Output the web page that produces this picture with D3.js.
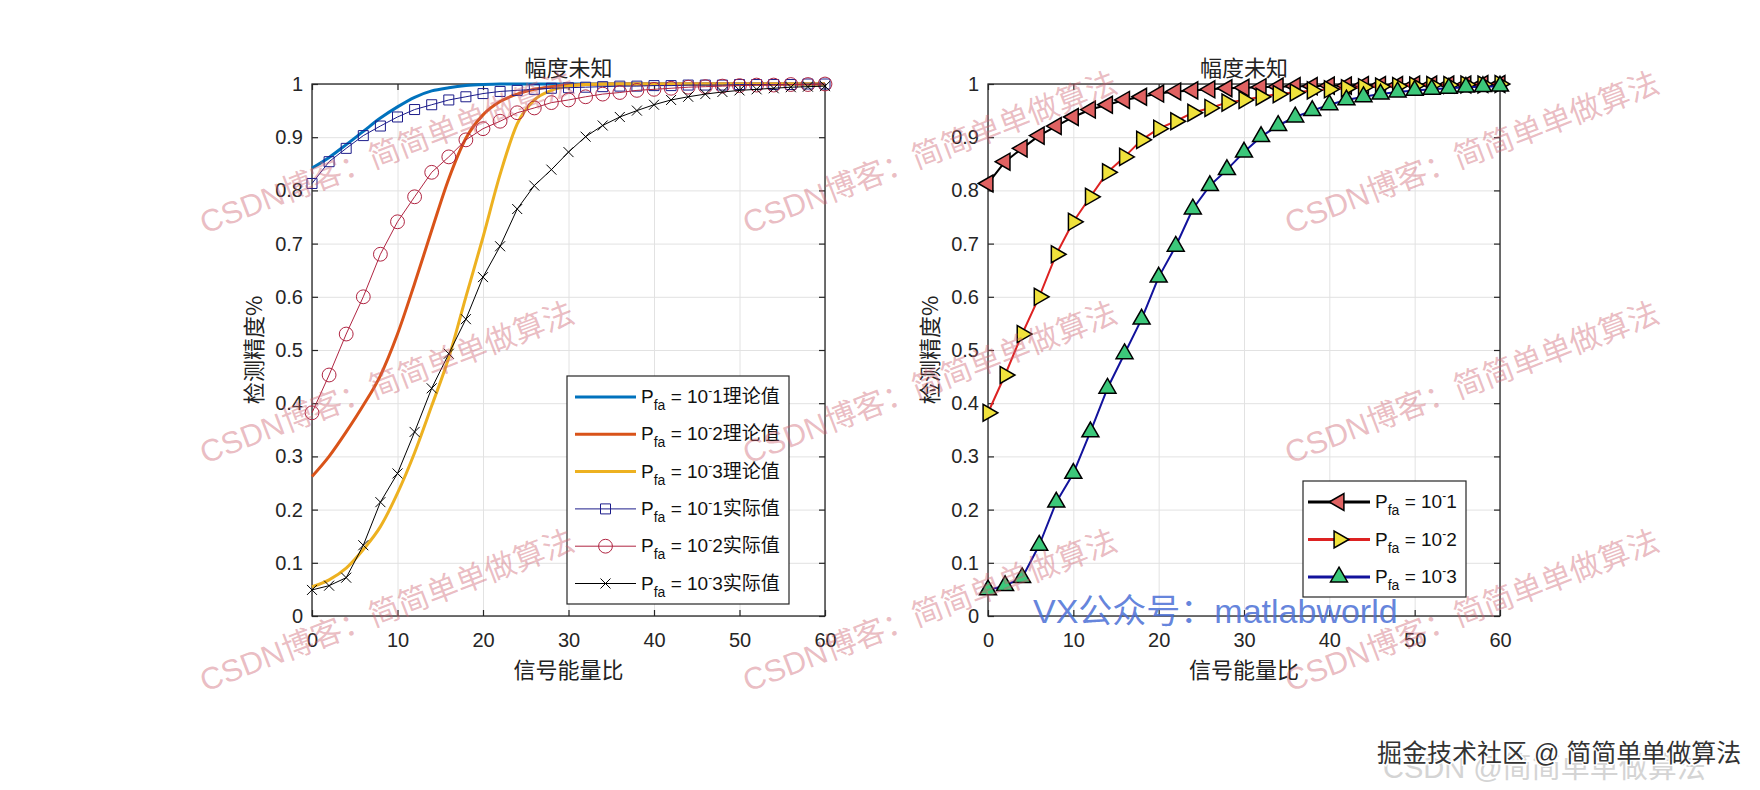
<!DOCTYPE html>
<html>
<head>
<meta charset="utf-8">
<script src="https://cdn.jsdelivr.net/npm/d3@7"></script>
<style>
  body { margin: 0; background: #fff; }
</style>
</head>
<body>
<div class="main"></div>
<script>
// Taille de la figure
const width = 1760;
const height = 790;

// Données (x = rapport signal/bruit)
const snr = [0, 2, 4, 6, 8, 10, 12, 14, 16, 18, 20, 22, 24, 26, 28, 30,
             32, 34, 36, 38, 40, 42, 44, 46, 48, 50, 52, 54, 56, 58, 60];

const theory1 = [0.842, 0.862, 0.886, 0.911, 0.936, 0.957, 0.975, 0.987, 0.993, 0.997, 0.999,
                 1, 1, 1, 1, 1, 1, 1, 1, 1, 1, 1, 1, 1, 1, 1, 1, 1, 1, 1, 1];
const theory2 = [0.262, 0.300, 0.346, 0.396, 0.452, 0.530, 0.625, 0.725, 0.822, 0.898, 0.942,
                 0.967, 0.981, 0.990, 0.995, 0.998, 0.999, 1, 1, 1, 1, 1, 1, 1, 1, 1, 1, 1, 1, 1, 1];
const theory3 = [0.055, 0.068, 0.090, 0.125, 0.168, 0.231, 0.307, 0.395, 0.486, 0.600, 0.712,
                 0.830, 0.925, 0.970, 0.988, 0.996, 0.999, 1, 1, 1, 1, 1, 1, 1, 1, 1, 1, 1, 1, 1, 1];

const actual1 = [0.813, 0.854, 0.879, 0.903, 0.921, 0.938, 0.952, 0.961, 0.970, 0.976, 0.982,
                 0.986, 0.988, 0.990, 0.992, 0.993, 0.994, 0.995, 0.996, 0.996, 0.997, 0.997,
                 0.998, 0.998, 0.998, 0.999, 0.999, 0.999, 0.999, 1.0, 1.0];
const actual2 = [0.382, 0.453, 0.530, 0.600, 0.680, 0.741, 0.788, 0.834, 0.863, 0.895, 0.916,
                 0.930, 0.946, 0.955, 0.965, 0.970, 0.976, 0.981, 0.984, 0.988, 0.990, 0.992,
                 0.994, 0.995, 0.996, 0.997, 0.998, 0.998, 0.999, 0.999, 1.0];
const actual3 = [0.049, 0.057, 0.072, 0.133, 0.214, 0.268, 0.346, 0.428, 0.493, 0.558, 0.637,
                 0.695, 0.765, 0.809, 0.839, 0.872, 0.901, 0.922, 0.938, 0.950, 0.961, 0.970,
                 0.976, 0.981, 0.985, 0.988, 0.990, 0.992, 0.994, 0.995, 0.996];

const xTicks = [0, 10, 20, 30, 40, 50, 60];
const yTicks = [0, 0.1, 0.2, 0.3, 0.4, 0.5, 0.6, 0.7, 0.8, 0.9, 1];
const pfaExp = ['1', '2', '3'];
const leftSuffix = ['理论值', '理论值', '理论值', '实际值', '实际值', '实际值'];
const title = '幅度未知';
const xLabel = '信号能量比';
const yLabel = '检测精度%';

const latin = '"Liberation Sans", Arial, sans-serif';
const cjk = '"Noto Sans CJK SC", sans-serif';
const axisColor = '#262626';

const svg = d3.select('.main')
  .append('svg')
  .attr('width', width)
  .attr('height', height)
  .style('display', 'block');

// Un axe façon MATLAB : grille, cadre, graduations intérieures
function panel(p) {
  const x = d3.scaleLinear().domain([0, 60]).range([p.left, p.right]);
  const y = d3.scaleLinear().domain([0, 1]).range([p.bottom, p.top]);
  const h = p.bottom - p.top;
  const w = p.right - p.left;
  const g = svg.append('g');

  // grille
  g.append('g')
    .attr('transform', `translate(0,${p.bottom})`)
    .call(d3.axisBottom(x).tickValues(xTicks).tickSize(-h).tickFormat(''))
    .call(a => a.select('.domain').remove())
    .selectAll('line').attr('stroke', '#e2e2e2');
  g.append('g')
    .attr('transform', `translate(${p.left},0)`)
    .call(d3.axisLeft(y).tickValues(yTicks).tickSize(-w).tickFormat(''))
    .call(a => a.select('.domain').remove())
    .selectAll('line').attr('stroke', '#e2e2e2');

  // cadre
  g.append('rect')
    .attr('x', p.left).attr('y', p.top)
    .attr('width', w).attr('height', h)
    .attr('fill', 'none')
    .attr('stroke', axisColor)
    .attr('stroke-width', 1.3);

  const styleAxis = a => {
    a.select('.domain').remove();
    a.selectAll('line').attr('stroke', axisColor).attr('stroke-width', 1.2);
    a.selectAll('text')
      .attr('fill', axisColor)
      .style('font-family', latin)
      .style('font-size', '20px');
  };

  g.append('g')
    .attr('transform', `translate(0,${p.bottom})`)
    .call(d3.axisBottom(x).tickValues(xTicks).tickSize(-6).tickPadding(17).tickFormat(d3.format('~g')))
    .call(styleAxis);
  g.append('g')
    .attr('transform', `translate(0,${p.top})`)
    .call(d3.axisTop(x).tickValues(xTicks).tickSize(-6).tickFormat(''))
    .call(styleAxis);
  g.append('g')
    .attr('transform', `translate(${p.left},0)`)
    .call(d3.axisLeft(y).tickValues(yTicks).tickSize(-6).tickPadding(9).tickFormat(d3.format('~g')))
    .call(styleAxis);
  g.append('g')
    .attr('transform', `translate(${p.right},0)`)
    .call(d3.axisRight(y).tickValues(yTicks).tickSize(-6).tickFormat(''))
    .call(styleAxis);

  // titres
  g.append('text')
    .attr('x', (p.left + p.right) / 2).attr('y', p.top - 8)
    .attr('text-anchor', 'middle')
    .style('font-family', cjk).style('font-size', '22px')
    .attr('fill', '#222')
    .text(title);
  g.append('text')
    .attr('x', (p.left + p.right) / 2).attr('y', p.bottom + 62)
    .attr('text-anchor', 'middle')
    .style('font-family', cjk).style('font-size', '22px')
    .attr('fill', '#222')
    .text(xLabel);
  g.append('text')
    .attr('transform', `translate(${p.left - 50},${(p.top + p.bottom) / 2}) rotate(-90)`)
    .attr('text-anchor', 'middle')
    .style('font-family', cjk).style('font-size', '22px')
    .attr('fill', '#222')
    .text(yLabel);

  return { g, x, y };
}

// Marqueurs
const markerPath = {
  square: d3.symbol().type(d3.symbolSquare).size(100)(),
  circle: d3.symbol().type(d3.symbolCircle).size(150)(),
  cross: 'M-5,-5L5,5M-5,5L5,-5',
  triangle: d3.symbol().type(d3.symbolTriangle).size(125)()
};

function drawSeries(g, x, y, values, s) {
  const pts = snr.map((v, i) => [v, values[i]]);
  const line = d3.line()
    .x(d => x(d[0])).y(d => y(d[1]))
    .curve(s.smooth ? d3.curveMonotoneX : d3.curveLinear);
  g.append('path')
    .datum(pts)
    .attr('d', line)
    .attr('fill', 'none')
    .attr('stroke', s.color)
    .attr('stroke-width', s.width)
    .attr('stroke-linejoin', 'round');
  if (s.marker) {
    g.append('g')
      .selectAll('path')
      .data(pts)
      .enter()
      .append('path')
      .attr('transform', d => `translate(${x(d[0])},${y(d[1])}) rotate(${s.rotate || 0})`)
      .attr('d', markerPath[s.marker])
      .attr('fill', s.fill || 'none')
      .attr('stroke', s.edge || s.color)
      .attr('stroke-width', s.edgeWidth || 1);
  }
}

// Texte de légende : P_fa = 10^-n suffixe
function legendText(g, tx, ty, exp, suffix) {
  const t = g.append('text')
    .attr('x', tx).attr('y', ty)
    .style('font-family', latin).style('font-size', '19px')
    .attr('fill', '#111');
  t.append('tspan').text('P');
  t.append('tspan').attr('dy', 7).style('font-size', '14px').text('fa');
  t.append('tspan').attr('dy', -7).text('\u00a0=\u00a010');
  t.append('tspan').attr('dy', -8).style('font-size', '12px').text('-');
  t.append('tspan').attr('dy', 8).text(exp);
  if (suffix) t.append('tspan').style('font-family', cjk).text(suffix);
}

function legend(g, box, rows) {
  g.append('rect')
    .attr('x', box.x).attr('y', box.y)
    .attr('width', box.w).attr('height', box.h)
    .attr('fill', '#fff')
    .attr('stroke', axisColor)
    .attr('stroke-width', 1.2);
  rows.forEach((s, i) => {
    const cy = box.row0 + i * box.step;
    g.append('line')
      .attr('x1', box.l0).attr('x2', box.l1)
      .attr('y1', cy).attr('y2', cy)
      .attr('stroke', s.color)
      .attr('stroke-width', s.width);
    if (s.marker) {
      g.append('path')
        .attr('transform', `translate(${(box.l0 + box.l1) / 2},${cy}) rotate(${s.rotate || 0})`)
        .attr('d', markerPath[s.marker])
        .attr('fill', s.fill || 'none')
        .attr('stroke', s.edge || s.color)
        .attr('stroke-width', s.edgeWidth || 1);
    }
    legendText(g, box.text, cy + 6, s.exp, s.suffix);
  });
}

// ---- Graphique de gauche ----
const left = panel({ left: 312, right: 825, top: 84, bottom: 616 });
const leftSeries = [
  { values: theory1, color: '#0072BD', width: 3, smooth: true },
  { values: theory2, color: '#D95319', width: 3, smooth: true },
  { values: theory3, color: '#EDB120', width: 3, smooth: true },
  { values: actual1, color: '#1c1c8a', width: 1, marker: 'square' },
  { values: actual2, color: '#b02542', width: 1, marker: 'circle' },
  { values: actual3, color: '#000000', width: 1, marker: 'cross' }
];
leftSeries.forEach(s => drawSeries(left.g, left.x, left.y, s.values, s));
legend(left.g,
  { x: 567, y: 376, w: 222, h: 228, row0: 397, step: 37.3, l0: 575, l1: 636, text: 641 },
  leftSeries.map((s, i) => Object.assign({}, s, { exp: pfaExp[i % 3], suffix: leftSuffix[i] })));

// ---- Graphique de droite ----
const right = panel({ left: 988, right: 1500, top: 84, bottom: 616 });
const rightSeries = [
  { values: actual1, color: '#000000', width: 2, marker: 'triangle', rotate: -90, fill: '#e06262', edge: '#000', edgeWidth: 1.5 },
  { values: actual2, color: '#dd2222', width: 2, marker: 'triangle', rotate: 90, fill: '#f0e23c', edge: '#000', edgeWidth: 1.5 },
  { values: actual3, color: '#12129c', width: 2, marker: 'triangle', rotate: 0, fill: '#3cc87a', edge: '#000', edgeWidth: 1.5 }
];
rightSeries.forEach(s => drawSeries(right.g, right.x, right.y, s.values, s));
legend(right.g,
  { x: 1303, y: 481, w: 163, h: 116, row0: 502, step: 37.5, l0: 1308, l1: 1370, text: 1375 },
  rightSeries.map((s, i) => Object.assign({}, s, { width: 3, exp: pfaExp[i], suffix: '' })));

// ---- Filigranes ----
const wmText = 'CSDN博客：简简单单做算法';
const wmX = [205, 748, 1290];
const wmY = [234, 464, 692];
const wm = svg.append('g')
  .style('font-family', '"Liberation Sans", "Noto Sans CJK SC", sans-serif')
  .style('font-size', '31px')
  .attr('fill', 'rgb(205,95,110)')
  .attr('fill-opacity', 0.42);
wmY.forEach(yy => wmX.forEach(xx => {
  wm.append('text')
    .attr('transform', `translate(${xx},${yy}) rotate(-21)`)
    .text(wmText);
}));

svg.append('text')
  .attr('x', 1033).attr('y', 623)
  .style('font-family', '"Liberation Sans", "Noto Sans CJK SC", sans-serif')
  .style('font-size', '34px')
  .attr('fill', '#4a6fd6')
  .attr('fill-opacity', 0.85)
  .text('VX公众号：matlabworld');

svg.append('text')
  .attr('x', 1383).attr('y', 778)
  .style('font-family', '"Liberation Sans", "Noto Sans CJK SC", sans-serif')
  .style('font-size', '29px')
  .attr('fill', '#d4d4d4')
  .text('CSDN @简简单单做算法');

svg.append('text')
  .attr('x', 1377).attr('y', 762)
  .style('font-family', '"Liberation Sans", "Noto Sans CJK SC", sans-serif')
  .style('font-size', '25px')
  .attr('fill', '#333')
  .attr('stroke', '#fff')
  .attr('stroke-width', 3)
  .style('paint-order', 'stroke')
  .text('掘金技术社区 @ 简简单单做算法');
</script>
</body>
</html>
